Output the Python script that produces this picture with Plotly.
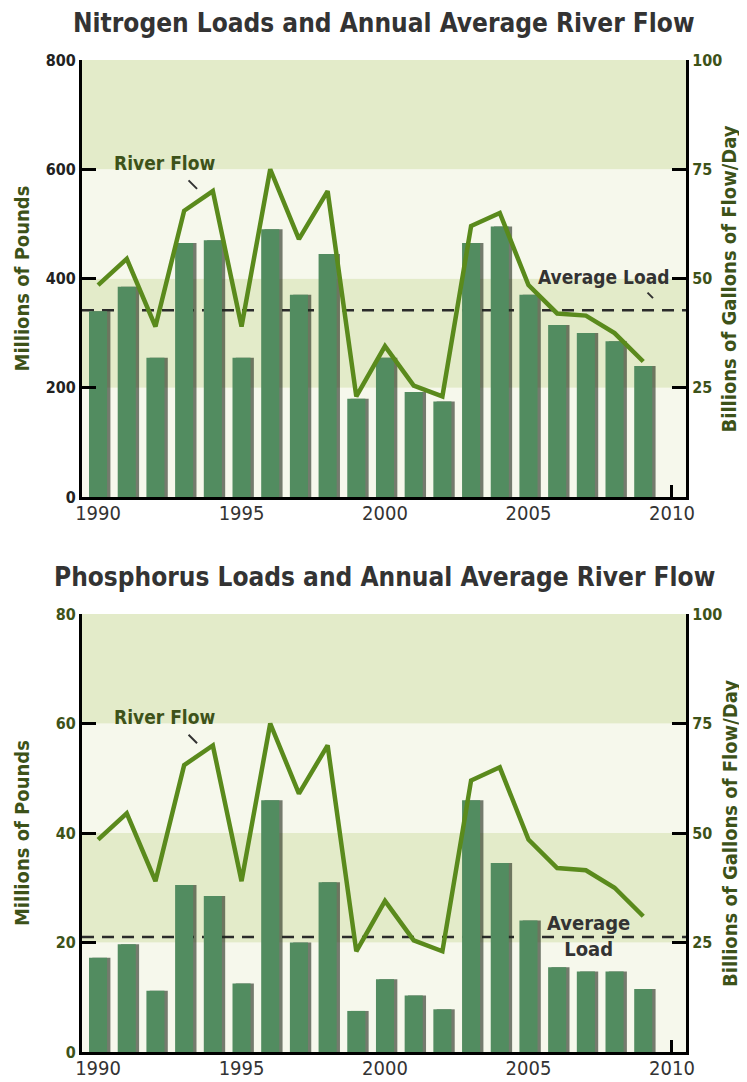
import plotly.graph_objects as go

years = list(range(1990, 2010))
nitrogen = [340, 385, 255, 465, 470, 255, 490, 370, 445, 180,
            255, 192, 175, 465, 495, 370, 315, 300, 285, 240]
phosphorus = [17.2, 19.7, 11.2, 30.5, 28.5, 12.5, 46, 20, 31, 7.5,
              13.3, 10.3, 7.8, 46, 34.5, 24, 15.5, 14.7, 14.7, 11.5]
river_flow = [48.5, 54.5, 39, 65.5, 70, 39, 75, 59, 70, 23,
              34.5, 25.5, 23, 62, 65, 48.5, 42, 41.5, 37.5, 31]
avg_nitrogen = 342
avg_phosphorus = 21

bar_col = "#528c60"
line_col = "#5a8a1c"
olive = "#3d5219"
band_green = "#e3ebc9"
band_pale = "#f6f8ec"
font = "DejaVu Sans Condensed"

fig = go.Figure()

panels = [
    # loads, avg, x axis, left y, right y, top value
    (nitrogen, avg_nitrogen, "x", "y", "y2", 800),
    (phosphorus, avg_phosphorus, "x2", "y3", "y4", 80),
]

for loads, avg, xa, ya, yb, top in panels:
    # shadow behind the bars
    fig.add_trace(go.Bar(x=years, y=loads, xaxis=xa, yaxis=ya, width=0.63, offset=-0.2,
                         marker=dict(color="rgba(30,40,25,0.6)", line_width=0),
                         hoverinfo="skip", showlegend=False))
    fig.add_trace(go.Bar(x=years, y=loads, xaxis=xa, yaxis=ya, width=0.63, offset=-0.315,
                         marker=dict(color=bar_col, line_width=0),
                         name="Load", showlegend=False))
    fig.add_trace(go.Scatter(x=years, y=river_flow, xaxis=xa, yaxis=yb, mode="lines",
                             line=dict(color=line_col, width=4.5),
                             name="River Flow", showlegend=False))
    # background bands
    step = top / 4
    for i in range(4):
        fig.add_shape(type="rect", xref=xa + " domain", yref=ya, x0=0, x1=1,
                      y0=i * step, y1=(i + 1) * step, layer="below", line_width=0,
                      fillcolor=band_green if i % 2 == 1 else band_pale)
    fig.add_shape(type="line", xref=xa + " domain", yref=ya, x0=0, x1=1, y0=avg, y1=avg,
                  layer="below", line=dict(color="#2b2b2b", width=2.5, dash="12px,8px"))

xrng = [1989.44, 2010.49]
xcommon = dict(range=xrng, tickvals=[1990, 1995, 2000, 2005, 2010], showline=True,
               linecolor="black", linewidth=3, ticks="inside", ticklen=12, tickwidth=2.5,
               tickcolor="black", showgrid=False, zeroline=False, layer="below traces",
               automargin=False, ticklabelstandoff=-4,
               tickfont=dict(family=font, size=20, color="#333333"))
fig.update_layout(
    xaxis=dict(xcommon, anchor="y", domain=[0, 1]),
    xaxis2=dict(xcommon, anchor="y3", domain=[0, 1]),
)

def yax(rng, vals, dom, side, col, overlay=None):
    d = dict(range=rng, tickvals=vals, domain=dom, side=side, showline=True,
             linecolor="black", linewidth=3, ticks="inside", ticklen=14, tickwidth=2.5,
             tickcolor="black", showgrid=False, zeroline=False, automargin=False,
             tickfont=dict(family=font, size=16, color=col, weight="bold"))
    if overlay:
        d["overlaying"] = overlay
    return d

top_dom = [0.5595, 1]
bot_dom = [0, 0.4415]
fig.update_layout(
    yaxis=yax([0, 800], [0, 200, 400, 600, 800], top_dom, "left", "#222222"),
    yaxis2=yax([0, 100], [25, 50, 75, 100], top_dom, "right", olive, overlay="y"),
    yaxis3=yax([0, 80], [0, 20, 40, 60, 80], bot_dom, "left", olive),
    yaxis4=yax([0, 100], [25, 50, 75, 100], bot_dom, "right", olive, overlay="y3"),
)
fig.update_layout(yaxis2_anchor="x", yaxis4_anchor="x2", yaxis_anchor="x", yaxis3_anchor="x2")

ann = []
for name, dom in [("Nitrogen", top_dom), ("Phosphorus", bot_dom)]:
    ann.append(dict(text="<b>%s Loads and Annual Average River Flow</b>" % name,
                    xref="paper", yref="paper", x=0.5, y=dom[1], yshift=37, showarrow=False,
                    font=dict(family=font, size=26, color="#333333"),
                    xanchor="center", yanchor="middle"))
    # axis titles
    mid = (dom[0] + dom[1]) / 2
    ann.append(dict(text="<b>Millions of Pounds</b>", xref="paper", yref="paper",
                    x=-0.0993, y=mid, textangle=-90, showarrow=False,
                    font=dict(family=font, size=20, color=olive),
                    xanchor="center", yanchor="middle"))
    ann.append(dict(text="<b>Billions of Gallons of Flow/Day</b>", xref="paper", yref="paper",
                    x=1.0728, y=mid, textangle=-90, showarrow=False,
                    font=dict(family=font, size=20, color=olive),
                    xanchor="center", yanchor="middle"))

lbl = dict(family=font, size=19, color=olive)
# River Flow labels
for xa, yb in [("x", "y2"), ("x2", "y4")]:
    ann.append(dict(text="<b>River Flow</b>", x=1992.3, y=76.5, xref=xa, yref=yb,
                    showarrow=False, font=lbl))
    ann.append(dict(text="", x=1993.45, y=70.5, ax=-10, ay=-10, xref=xa, yref=yb,
                    showarrow=True, arrowhead=0, arrowwidth=2, arrowcolor="#333333"))
# Average load labels
ann.append(dict(text="<b>Average Load</b>", x=2007.63, y=50.3, xref="x", yref="y2",
                showarrow=False, font=dict(family=font, size=19, color="#333333")))
ann.append(dict(text="", x=2009.34, y=45.5, ax=-7, ay=-7, xref="x", yref="y2",
                showarrow=True, arrowhead=0, arrowwidth=2, arrowcolor="#333333"))
ann.append(dict(text="<b>Average<br>Load</b>", x=2007.1, y=26.5, xref="x2", yref="y4",
                showarrow=False, font=dict(family=font, size=20, color="#333333")))

fig.update_layout(
    annotations=ann,
    barmode="overlay",
    width=739, height=1074,
    margin=dict(l=74, r=61, t=52, b=30, autoexpand=False),
    paper_bgcolor="white", plot_bgcolor="white",
    showlegend=False,
)

fig.write_html("out.html")
